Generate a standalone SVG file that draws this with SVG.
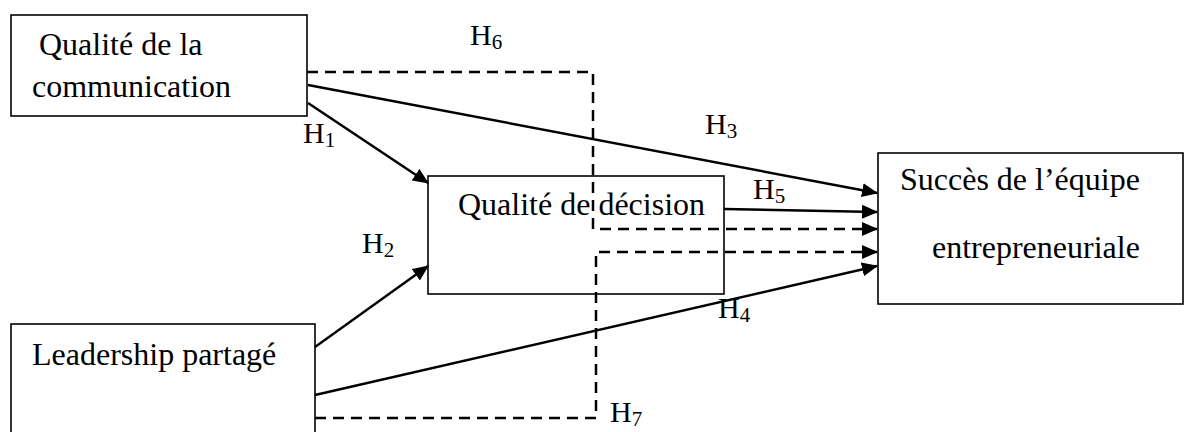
<svg xmlns="http://www.w3.org/2000/svg" width="1184" height="432" viewBox="0 0 1184 432">
<style>
.box{fill:#fff;stroke:#000;stroke-width:1.6}
.t{font-family:"Liberation Serif","Times New Roman",serif;font-size:32px;fill:#000}
.h{font-family:"Liberation Serif","Times New Roman",serif;font-size:30px;fill:#000}
.sub{font-size:21px}
.ln{fill:none;stroke:#000;stroke-width:2.4}
.ds{fill:none;stroke:#000;stroke-width:2.5;stroke-dasharray:11 7}
</style>
<defs>
<marker id="ah" markerUnits="userSpaceOnUse" markerWidth="16" markerHeight="14" refX="15" refY="7" orient="auto">
<path d="M0,0 L16,7 L0,14 Z" fill="#000"/>
</marker>
</defs>
<g id="n1">
<rect class="box" x="11" y="15" width="296" height="101"/>
<text class="t" x="39" y="55">Qualité de la</text>
<text class="t" x="32" y="97">communication</text>
</g>
<g id="n2">
<rect class="box" x="428" y="176" width="296" height="118"/>
<text class="t" x="458" y="215">Qualité de décision</text>
</g>
<g id="n3">
<rect class="box" x="878" y="153" width="305" height="151"/>
<text class="t" x="900" y="190">Succès de l’équipe</text>
<text class="t" x="932" y="258">entrepreneuriale</text>
</g>
<g id="n4">
<rect class="box" x="11" y="324" width="304" height="120"/>
<text class="t" x="32" y="365">Leadership partagé</text>
</g>
<g id="connectors">
<line class="ln" x1="308" y1="103" x2="428" y2="183" marker-end="url(#ah)"/>
<line class="ln" x1="308" y1="85" x2="877" y2="193" marker-end="url(#ah)"/>
<line class="ln" x1="315" y1="347" x2="428" y2="266" marker-end="url(#ah)"/>
<line class="ln" x1="315" y1="395" x2="877" y2="266" marker-end="url(#ah)"/>
<line class="ln" x1="724" y1="209" x2="877" y2="212" marker-end="url(#ah)"/>
<path class="ds" d="M307,72 H593 V229 H877" marker-end="url(#ah)"/>
<path class="ds" d="M315,418 H596 V252 H877" marker-end="url(#ah)"/>
</g>
<g id="labels">
<text class="h" x="470" y="45">H<tspan class="sub" dy="4">6</tspan></text>
<text class="h" x="303" y="143">H<tspan class="sub" dy="4">1</tspan></text>
<text class="h" x="705" y="134">H<tspan class="sub" dy="4">3</tspan></text>
<text class="h" x="753" y="199">H<tspan class="sub" dy="4">5</tspan></text>
<text class="h" x="362" y="253">H<tspan class="sub" dy="4">2</tspan></text>
<text class="h" x="718" y="318">H<tspan class="sub" dy="4">4</tspan></text>
<text class="h" x="610" y="422">H<tspan class="sub" dy="4">7</tspan></text>
</g>
</svg>
